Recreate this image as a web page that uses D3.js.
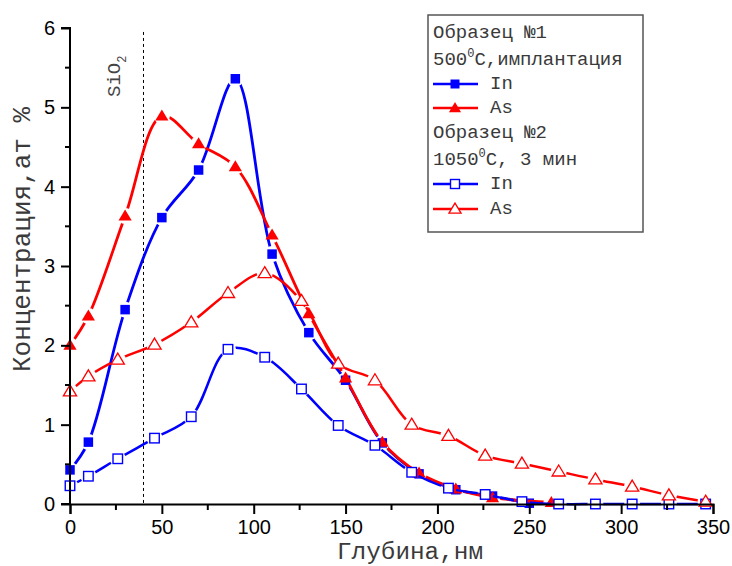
<!DOCTYPE html>
<html>
<head>
<meta charset="utf-8">
<script src="https://cdn.jsdelivr.net/npm/d3@7"></script>
<style>
  body { margin: 0; background: #fff; }
</style>
</head>
<body>
<div id="chart"></div>
<script>
// Sample 1 (500 C, implantation)
const in1Depth = [0, 10, 30, 50, 70, 90, 110, 130, 150, 170, 190, 210, 230, 250];
const in1Conc  = [0.43, 0.78, 2.45, 3.61, 4.21, 5.36, 3.15, 2.16, 1.56, 0.77, 0.38, 0.18, 0.10, 0.01];
const as1Depth = [0, 10, 30, 50, 70, 90, 110, 130, 150, 170, 190, 210, 230, 262];
const as1Conc  = [2.00, 2.37, 3.63, 4.89, 4.54, 4.25, 3.39, 2.40, 1.59, 0.78, 0.39, 0.19, 0.08, 0.02];
// Sample 2 (1050 C, 3 min)
const in2Depth = [0, 10, 26, 46, 66, 86, 106, 126, 146, 166, 186, 206, 226, 246, 266, 286, 306, 326, 346];
const in2Conc  = [0.23, 0.35, 0.57, 0.83, 1.10, 1.95, 1.85, 1.45, 0.99, 0.74, 0.40, 0.20, 0.12, 0.03, 0, 0, 0, 0, 0];
const as2Depth = [0, 10, 26, 46, 66, 86, 106, 126, 146, 166, 186, 206, 226, 246, 266, 286, 306, 326, 346];
const as2Conc  = [1.42, 1.61, 1.82, 2.01, 2.29, 2.66, 2.91, 2.56, 1.77, 1.56, 1.00, 0.86, 0.61, 0.51, 0.41, 0.31, 0.22, 0.11, 0.03];

const xTicks = [0, 50, 100, 150, 200, 250, 300, 350];
const yTicks = [0, 1, 2, 3, 4, 5, 6];
const sio2Depth = 40;

const legendRows = [
  { text: "Образец №1" },
  { text: "500", sup: "0", rest: "C,имплантация" },
  { series: "in1", label: "In" },
  { series: "as1", label: "As" },
  { text: "Образец №2" },
  { text: "1050", sup: "0", rest: "C, 3 мин" },
  { series: "in2", label: "In" },
  { series: "as2", label: "As" }
];

const series = [
  { id: "in1", xs: in1Depth, ys: in1Conc, color: "#0000ff", shape: "square", filled: true },
  { id: "as1", xs: as1Depth, ys: as1Conc, color: "#ff0000", shape: "triangle", filled: true },
  { id: "in2", xs: in2Depth, ys: in2Conc, color: "#0000ff", shape: "square", filled: false },
  { id: "as2", xs: as2Depth, ys: as2Conc, color: "#ff0000", shape: "triangle", filled: false }
];

const W = 732, H = 566;
const svg = d3.select("#chart").append("svg")
  .attr("width", W).attr("height", H);

const x = d3.scaleLinear().domain([0, 350]).range([70, 713]);
const y = d3.scaleLinear().domain([0, 6]).range([504, 28]);

const monoFont = "Liberation Mono, DejaVu Sans Mono, monospace";
const sansFont = "Liberation Sans, Arial, sans-serif";
const textGray = "#3a3a3a";

// SiO2 boundary
svg.append("line")
  .attr("x1", x(sio2Depth)).attr("x2", x(sio2Depth))
  .attr("y1", y(5.95)).attr("y2", y(0))
  .attr("stroke", "#000").attr("stroke-width", 1)
  .attr("stroke-dasharray", "3,3");

const sio = svg.append("text")
  .attr("transform", "translate(120,97) rotate(-90)")
  .style("font-family", monoFont).style("font-size", "19px")
  .style("fill", "#444");
sio.append("tspan").text("SiO");
sio.append("tspan").style("font-size", "12px").attr("dy", 6).text("2");

// markers
let marker = (g, s, size) => {
  if (s.shape === "square") {
    g.append("rect")
      .attr("x", -size / 2).attr("y", -size / 2)
      .attr("width", size).attr("height", size)
      .attr("fill", s.filled ? s.color : "#fff")
      .attr("stroke", s.color)
      .attr("stroke-width", s.filled ? 0 : 1.4);
  } else {
    let h = size * 0.9;
    g.append("path")
      .attr("d", `M0,${-h * 0.6}L${size * 0.55},${h * 0.42}L${-size * 0.55},${h * 0.42}Z`)
      .attr("fill", s.filled ? s.color : "#fff")
      .attr("stroke", s.color)
      .attr("stroke-width", s.filled ? 0 : 1.3);
  }
};

const line = d3.line()
  .x(d => x(d[0]))
  .y(d => y(d[1]))
  .curve(d3.curveCatmullRom.alpha(0.5));

const defs = svg.append("defs");

series.forEach(s => {
  let pts = s.xs.map((v, i) => [v, s.ys[i]]);
  // Origin-style gaps around each marker
  let mask = defs.append("mask").attr("id", "gap-" + s.id)
    .attr("maskUnits", "userSpaceOnUse")
    .attr("x", 0).attr("y", 0).attr("width", W).attr("height", H);
  mask.append("rect").attr("width", W).attr("height", H).attr("fill", "#fff");
  mask.selectAll("circle").data(pts).enter().append("circle")
    .attr("cx", d => x(d[0])).attr("cy", d => y(d[1]))
    .attr("r", 8).attr("fill", "#000");

  svg.append("path")
    .datum(pts)
    .attr("d", line)
    .attr("fill", "none")
    .attr("stroke", s.color)
    .attr("stroke-width", s.filled ? 2.8 : 2.5)
    .attr("mask", `url(#gap-${s.id})`);

  svg.append("g").selectAll("g").data(pts).enter()
    .append("g")
    .attr("transform", d => `translate(${x(d[0])},${y(d[1])})`)
    .each(function () { marker(d3.select(this), s, s.shape === "square" ? 9.5 : 12); });
});

// axes
let xAxis = d3.axisBottom(x).tickValues(xTicks).tickSize(10).tickPadding(6)
  .tickFormat(d3.format("d"));
let yAxis = d3.axisLeft(y).tickValues(yTicks).tickSize(9).tickPadding(6)
  .tickFormat(d3.format("d"));

let gx = svg.append("g").attr("transform", `translate(0,${y(0)})`).call(xAxis);
let gy = svg.append("g").attr("transform", `translate(${x(0)},0)`).call(yAxis);

[gx, gy].forEach(g => {
  g.select(".domain").attr("stroke", "#000").attr("stroke-width", 2);
  g.selectAll(".tick line").attr("stroke", "#000").attr("stroke-width", 2);
  g.selectAll(".tick text")
    .style("font-family", sansFont).style("font-size", "20px").style("fill", "#000");
});
gy.select(".domain").attr("d", `M-9,${y(0)}H0V${y(6)}H-9`);

// minor ticks
svg.append("g").selectAll("line")
  .data(d3.range(25, 350, 50)).enter().append("line")
  .attr("x1", d => x(d)).attr("x2", d => x(d))
  .attr("y1", y(0)).attr("y2", y(0) + 6)
  .attr("stroke", "#000").attr("stroke-width", 2);
svg.append("g").selectAll("line")
  .data(d3.range(0.5, 6, 1)).enter().append("line")
  .attr("x1", x(0) - 5).attr("x2", x(0))
  .attr("y1", d => y(d)).attr("y2", d => y(d))
  .attr("stroke", "#000").attr("stroke-width", 2);

// axis titles
svg.append("text")
  .attr("x", 337).attr("y", 559)
  .style("font-family", monoFont).style("font-size", "23px")
  .style("fill", textGray)
  .attr("textLength", 146).attr("lengthAdjust", "spacingAndGlyphs")
  .text("Глубина,нм");

svg.append("text")
  .attr("transform", `translate(30,${(107 + 372) / 2}) rotate(-90)`)
  .attr("text-anchor", "middle")
  .style("font-family", monoFont).style("font-size", "25px")
  .attr("textLength", 265).attr("lengthAdjust", "spacingAndGlyphs")
  .style("fill", textGray)
  .text("Концентрация,ат %");

// legend
const lg = svg.append("g");
lg.append("rect")
  .attr("x", 428).attr("y", 15).attr("width", 215).attr("height", 217)
  .attr("fill", "#fff").attr("stroke", "#555").attr("stroke-width", 1.5);

const rowBase = [38, 65, 89, 113, 138, 165, 189, 214];
legendRows.forEach((r, i) => {
  let by = rowBase[i];
  if (r.series) {
    let s = series.find(d => d.id === r.series);
    let cy = by - 5;
    lg.append("line")
      .attr("x1", 433).attr("x2", 478).attr("y1", cy).attr("y2", cy)
      .attr("stroke", s.color).attr("stroke-width", 2.5);
    let m = lg.append("g").attr("transform", `translate(455,${cy})`);
    marker(m, s, s.shape === "square" ? 9 : 11);
    lg.append("text")
      .attr("x", 490).attr("y", by)
      .style("font-family", monoFont).style("font-size", "19px")
      .style("fill", textGray)
      .text(r.label);
  } else {
    let t = lg.append("text")
      .attr("x", 433).attr("y", by)
      .style("font-family", monoFont).style("font-size", "19px")
      .style("fill", textGray);
    t.append("tspan").text(r.text);
    if (r.sup) {
      t.append("tspan").style("font-size", "12px").attr("dy", -8).text(r.sup);
      t.append("tspan").attr("dy", 8).text(r.rest);
    }
  }
});
</script>
</body>
</html>
